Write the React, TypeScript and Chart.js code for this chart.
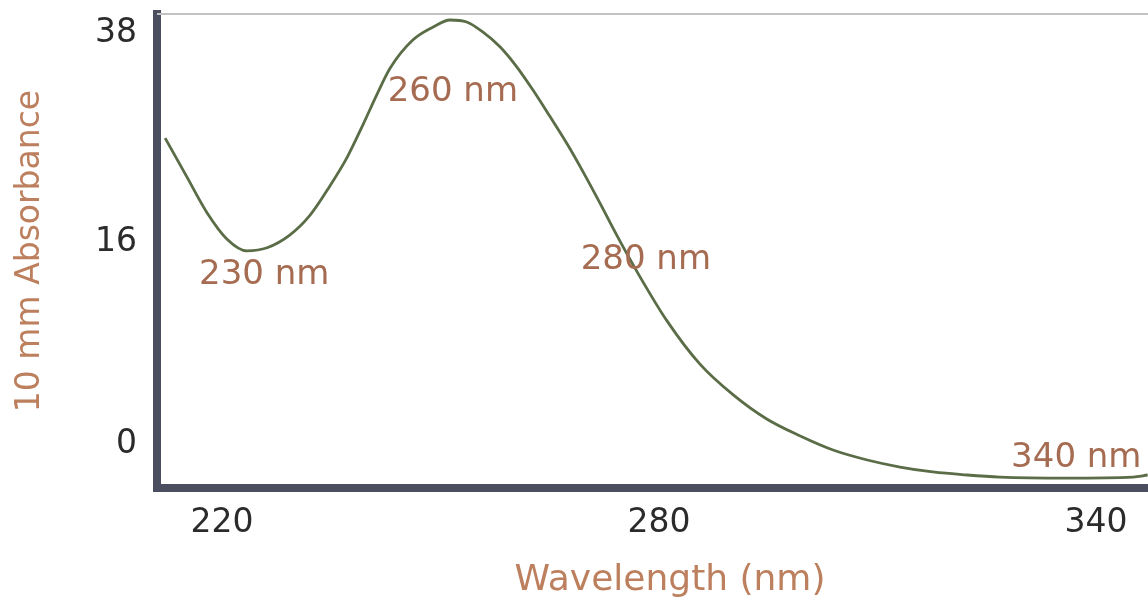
import { useEffect, useRef } from 'react';
import { Chart, registerables, LinearScale } from 'chart.js';

// ---- data ----
const wavelengths = [212.2, 215.2, 217.9, 220.7, 223.4, 226.2, 229.3, 232.1, 234.8, 237.2, 239.4, 241.3, 243.1, 246.2, 249.0, 251.3, 253.6, 255.8, 258.2, 260.5, 262.7, 265.0, 267.4, 269.6, 271.9, 274.2, 277.4, 281.1, 285.6, 290.2, 294.8, 299.4, 303.9, 308.6, 313.1, 317.6, 322.3, 326.8, 336.0, 345.1, 347.1];
const absorbance = [26.95, 22.84, 19.16, 16.32, 15.32, 15.56, 16.74, 18.84, 21.89, 24.95, 28.42, 31.58, 34.32, 37.26, 38.63, 39.37, 39.16, 38.11, 36.53, 34.42, 32.0, 29.26, 26.32, 23.37, 20.11, 16.74, 13.25, 9.76, 6.35, 3.89, 1.98, 0.63, -0.48, -1.27, -1.83, -2.22, -2.46, -2.62, -2.70, -2.62, -2.46];
const xTicks = [220, 280, 340];
const yTicks = [0, 16, 38];
const peakLabels = ['230 nm', '260 nm', '280 nm', '340 nm'];
const peakLabelX = [225.8, 251.7, 278.2, 337.3];
const peakLabelY = [13.4, 31.8, 14.6, -1.1];

// ---- y axis of the reference is not evenly spaced: piecewise scale ----
const BREAK = 16;
const LOW_STEP = 12.6;
const HIGH_STEP = 9.5;
const warp = (v: number) => (v <= BREAK ? v * LOW_STEP : BREAK * LOW_STEP + (v - BREAK) * HIGH_STEP);
const unwarp = (p: number) => (p <= BREAK * LOW_STEP ? p / LOW_STEP : BREAK + (p - BREAK * LOW_STEP) / HIGH_STEP);

class WarpedScale extends LinearScale {
  static id = 'warped';
  static defaults = LinearScale.defaults;
  getPixelForValue(value: number) {
    const a = warp(this.min);
    const b = warp(this.max);
    return this.getPixelForDecimal((warp(value) - a) / (b - a));
  }
  getValueForPixel(pixel: number) {
    const a = warp(this.min);
    const b = warp(this.max);
    return unwarp(a + this.getDecimalForPixel(pixel) * (b - a));
  }
}

Chart.register(...registerables, WarpedScale as any);

const FONT = '"DejaVu Sans", "Liberation Sans", sans-serif';
const AXIS_COLOR = '#4a4e5f';
const TITLE_COLOR = '#bd805f';
const NOTE_COLOR = '#a66c52';
const LINE_COLOR = '#5a6d47';

const zeroPadding = (s: any) => {
  s.paddingTop = 0;
  s.paddingBottom = 0;
  s.paddingLeft = 0;
  s.paddingRight = 0;
};

const framePlugin = {
  id: 'frameTop',
  beforeDatasetsDraw(chart: any) {
    const { ctx, chartArea } = chart;
    ctx.save();
    ctx.strokeStyle = '#c2c2c2';
    ctx.lineWidth = 2;
    ctx.beginPath();
    ctx.moveTo(chartArea.left, chartArea.top);
    ctx.lineTo(chart.width, chartArea.top);
    ctx.stroke();
    ctx.restore();
  },
};

const notesPlugin = {
  id: 'peakNotes',
  afterDatasetsDraw(chart: any) {
    const { ctx, scales } = chart;
    ctx.save();
    ctx.font = `34px ${FONT}`;
    ctx.fillStyle = NOTE_COLOR;
    ctx.textAlign = 'center';
    ctx.textBaseline = 'middle';
    peakLabels.forEach((t, i) => {
      ctx.fillText(t, scales.x.getPixelForValue(peakLabelX[i]), scales.y.getPixelForValue(peakLabelY[i]));
    });
    ctx.restore();
  },
};

export default function App() {
  const ref = useRef<HTMLCanvasElement | null>(null);
  useEffect(() => {
    if (!ref.current) return;
    const chart = new Chart(ref.current, {
      type: 'line',
      data: {
        datasets: [
          {
            data: wavelengths.map((x, i) => ({ x, y: absorbance[i] })),
            borderColor: LINE_COLOR,
            borderWidth: 2.8,
            pointRadius: 0,
            cubicInterpolationMode: 'monotone',
            fill: false,
          },
        ],
      },
      options: {
        animation: false,
        responsive: false,
        devicePixelRatio: 1,
        layout: { padding: { top: 14, right: 0, left: 0, bottom: 0 } },
        plugins: { legend: { display: false }, tooltip: { enabled: false } },
        scales: {
          x: {
            type: 'linear',
            min: 211.08,
            max: 351.95,
            afterBuildTicks: (s: any) => {
              s.ticks = xTicks.map((v) => ({ value: v }));
            },
            afterFit: (s: any) => {
              s.height = 115;
              zeroPadding(s);
            },
            grid: { display: false, drawTicks: false },
            border: { display: true, color: AXIS_COLOR, width: 8 },
            ticks: {
              autoSkip: false,
              maxRotation: 0,
              padding: 16,
              color: '#2b2b2b',
              font: { family: FONT, size: 33 },
              callback: (v: any) => String(v),
            },
            title: {
              display: true,
              text: 'Wavelength (nm)',
              color: TITLE_COLOR,
              font: { family: FONT, size: 36 },
              padding: { top: 0, bottom: 1 },
            },
          },
          y: {
            type: 'warped' as any,
            min: -3.49,
            max: 40.0,
            afterBuildTicks: (s: any) => {
              s.ticks = yTicks.map((v) => ({ value: v }));
            },
            afterFit: (s: any) => {
              s.width = 157;
              zeroPadding(s);
            },
            grid: { display: false, drawTicks: false },
            border: { display: true, color: AXIS_COLOR, width: 8 },
            ticks: {
              autoSkip: false,
              padding: 20,
              color: '#2b2b2b',
              font: { family: FONT, size: 33 },
              callback: (v: any) => String(v),
            },
            title: {
              display: true,
              text: '10 mm Absorbance',
              color: TITLE_COLOR,
              font: { family: FONT, size: 33 },
              padding: { top: 11, bottom: 0 },
            },
          },
        },
      } as any,
      plugins: [framePlugin, notesPlugin],
    });
    return () => chart.destroy();
  }, []);
  return (
    <div style={{ position: 'absolute', left: 0, top: 0, width: 1148, height: 603, overflow: 'hidden', background: '#fff' }}>
      <canvas ref={ref} width={1183} height={603} style={{ display: 'block' }} />
    </div>
  );
}
